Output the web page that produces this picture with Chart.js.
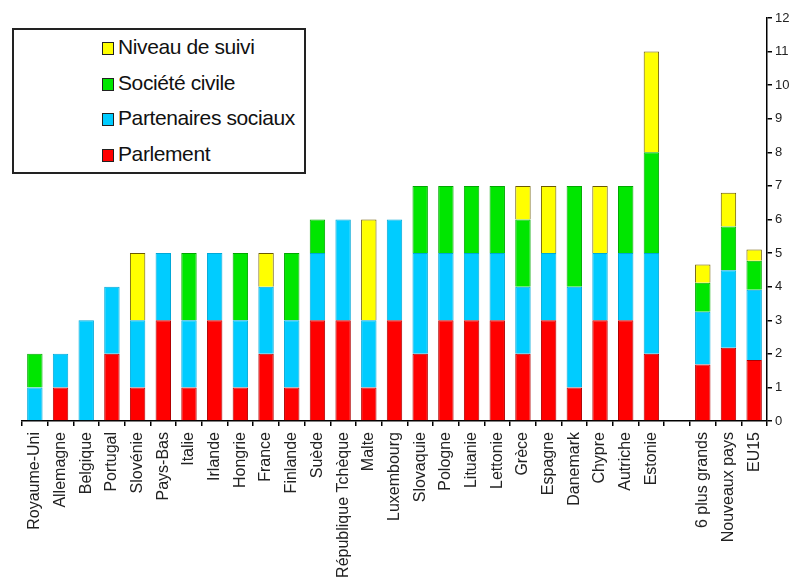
<!DOCTYPE html>
<html>
<head>
<meta charset="utf-8">
<script src="https://cdn.jsdelivr.net/npm/chart.js@4"></script>
<style>
  html, body { margin: 0; padding: 0; background: #fff; }
  #wrap { position: relative; width: 800px; height: 579px; overflow: hidden; }
  #legend {
    position: absolute; left: 12px; top: 28px; width: 290px; height: 142px;
    border: 2px solid #222; background: #fff;
    font-family: "Liberation Sans", Arial, sans-serif; font-size: 21px; color: #111;
  }
  #legend div { position: absolute; left: 88px; height: 22px; line-height: 22px; letter-spacing: -0.4px; white-space: nowrap; }
  #legend span {
    display: inline-block; width: 10px; height: 11px; border: 1.5px solid #222;
    margin-right: 4px; vertical-align: -1px;
  }
</style>
</head>
<body>
<div id="wrap">
  <canvas id="chart" width="800" height="579"></canvas>
  <div id="legend"></div>
</div>
<script>
  // Data
  const categories = ['Royaume-Uni', 'Allemagne', 'Belgique', 'Portugal', 'Slovénie', 'Pays-Bas', 'Italie',
    'Irlande', 'Hongrie', 'France', 'Finlande', 'Suède', 'République Tchèque', 'Malte', 'Luxembourg',
    'Slovaquie', 'Pologne', 'Lituanie', 'Lettonie', 'Grèce', 'Espagne', 'Danemark', 'Chypre', 'Autriche',
    'Estonie', '', '6 plus grands', 'Nouveaux pays', 'EU15'];
  const parlement   = [0, 1, 0, 2, 1, 3, 1, 3, 1, 2, 1, 3, 3, 1, 3, 2, 3, 3, 3, 2, 3, 1, 3, 3, 2, null, 1.68, 2.18, 1.82];
  const partenaires = [1, 1, 3, 2, 2, 2, 2, 2, 2, 2, 2, 2, 3, 2, 3, 3, 2, 2, 2, 2, 2, 3, 2, 2, 3, null, 1.57, 2.31, 2.09];
  const societe     = [1, 0, 0, 0, 0, 0, 2, 0, 2, 0, 2, 1, 0, 0, 0, 2, 2, 2, 2, 2, 0, 3, 0, 2, 3, null, 0.87, 1.30, 0.86];
  const suivi       = [0, 0, 0, 0, 2, 0, 0, 0, 0, 1, 0, 0, 0, 3, 0, 0, 0, 0, 0, 1, 2, 0, 2, 0, 3, null, 0.54, 1.01, 0.34];
  const yTicks = [0, 1, 2, 3, 4, 5, 6, 7, 8, 9, 10, 11, 12];

  const datasets = [
    { label: 'Parlement', data: parlement, backgroundColor: '#ff0000', borderColor: '#b00000' },
    { label: 'Partenaires sociaux', data: partenaires, backgroundColor: '#00ccff', borderColor: '#00a8d8' },
    { label: 'Société civile', data: societe, backgroundColor: '#00e600', borderColor: '#00a800' },
    { label: 'Niveau de suivi', data: suivi, backgroundColor: '#ffff00', borderColor: '#6b5a00' }
  ].map(d => Object.assign(d, { borderWidth: 1, barPercentage: 0.6, categoryPercentage: 1 }));

  // Legend box in the top-left, same order as the original (top of stack first)
  const legend = document.getElementById('legend');
  const tops = [6, 42, 77, 113];
  datasets.slice().reverse().forEach((d, i) => {
    const row = document.createElement('div');
    row.style.top = tops[i] + 'px';
    row.innerHTML = '<span style="background:' + d.backgroundColor + '"></span>' + d.label;
    legend.appendChild(row);
  });

  const chart = new Chart(document.getElementById('chart'), {
    type: 'bar',
    data: { labels: categories, datasets: datasets },
    options: {
      responsive: false,
      animation: false,
      layout: { padding: { left: 22, top: 18, right: 0, bottom: 0 } },
      plugins: { legend: { display: false }, tooltip: { enabled: false } },
      scales: {
        x: {
          stacked: true,
          offset: true,
          afterFit: s => { s.height = 158; },
          border: { color: '#000', width: 1.5 },
          grid: { offset: true, drawOnChartArea: false, drawTicks: true, tickLength: 5, color: '#000', lineWidth: 1.5 },
          ticks: {
            autoSkip: false, minRotation: 90, maxRotation: 90, padding: 6,
            color: '#222', font: { family: 'Liberation Sans, Arial, sans-serif', size: 16 }
          }
        },
        y: {
          stacked: true,
          position: 'right',
          min: 0, max: 12,
          afterBuildTicks: s => { s.ticks = yTicks.map(v => ({ value: v })); },
          afterFit: s => { s.width = 33; },
          border: { color: '#000', width: 1.5 },
          grid: { drawOnChartArea: false, drawTicks: true, tickLength: 5, color: '#000', lineWidth: 1.5 },
          ticks: {
            padding: 3, color: '#222',
            font: { family: 'Liberation Sans, Arial, sans-serif', size: 13 }
          }
        }
      }
    }
  });
</script>
</body>
</html>
